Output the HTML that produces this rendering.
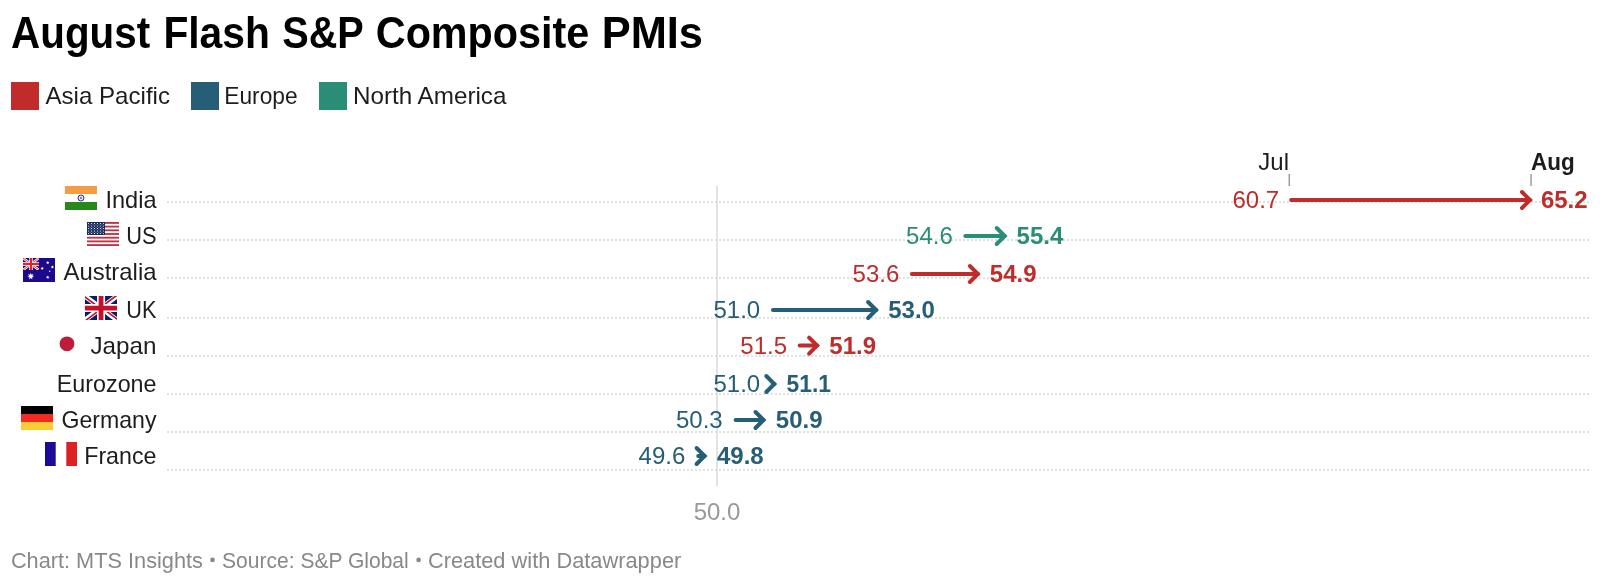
<!DOCTYPE html><html><head><meta charset="utf-8"><style>html,body{margin:0;padding:0;background:#fff;overflow:hidden}svg{display:block;will-change:transform}text{font-family:"Liberation Sans",sans-serif}</style></head><body>
<svg width="1621" height="584" viewBox="0 0 1621 584">
<rect width="1621" height="584" fill="#fff"/>
<text x="11.1" y="48" font-size="44" font-weight="bold" fill="#000" textLength="139.0" lengthAdjust="spacingAndGlyphs">August</text>
<text x="163.4" y="48" font-size="44" font-weight="bold" fill="#000" textLength="106.4" lengthAdjust="spacingAndGlyphs">Flash</text>
<text x="282.2" y="48" font-size="44" font-weight="bold" fill="#000" textLength="81.6" lengthAdjust="spacingAndGlyphs">S&amp;P</text>
<text x="375.8" y="48" font-size="44" font-weight="bold" fill="#000" textLength="213.5" lengthAdjust="spacingAndGlyphs">Composite</text>
<text x="601.7" y="48" font-size="44" font-weight="bold" fill="#000" textLength="101.3" lengthAdjust="spacingAndGlyphs">PMIs</text>
<rect x="11" y="82" width="28" height="28" fill="#bf2c29"/>
<text x="45.5" y="104" font-size="24" fill="#1d1d1d" textLength="124.5" lengthAdjust="spacingAndGlyphs">Asia Pacific</text>
<rect x="191" y="82" width="28" height="28" fill="#265e78"/>
<text x="224.3" y="104" font-size="24" fill="#1d1d1d" textLength="73.3" lengthAdjust="spacingAndGlyphs">Europe</text>
<rect x="319" y="82" width="28" height="28" fill="#2a8d75"/>
<text x="353" y="104" font-size="24" fill="#1d1d1d" textLength="153.4" lengthAdjust="spacingAndGlyphs">North America</text>
<rect x="716" y="186" width="2" height="300" fill="#e3e3e3"/>
<line x1="167" y1="202" x2="1589" y2="202" stroke="#e0e0e0" stroke-width="2" stroke-dasharray="2 2"/>
<line x1="167" y1="240" x2="1589" y2="240" stroke="#e0e0e0" stroke-width="2" stroke-dasharray="2 2"/>
<line x1="167" y1="278" x2="1589" y2="278" stroke="#e0e0e0" stroke-width="2" stroke-dasharray="2 2"/>
<line x1="167" y1="318" x2="1589" y2="318" stroke="#e0e0e0" stroke-width="2" stroke-dasharray="2 2"/>
<line x1="167" y1="356" x2="1589" y2="356" stroke="#e0e0e0" stroke-width="2" stroke-dasharray="2 2"/>
<line x1="167" y1="394" x2="1589" y2="394" stroke="#e0e0e0" stroke-width="2" stroke-dasharray="2 2"/>
<line x1="167" y1="432" x2="1589" y2="432" stroke="#e0e0e0" stroke-width="2" stroke-dasharray="2 2"/>
<line x1="167" y1="470" x2="1589" y2="470" stroke="#e0e0e0" stroke-width="2" stroke-dasharray="2 2"/>
<text x="1289" y="170" font-size="24" fill="#1d1d1d" text-anchor="end">Jul</text>
<text x="1531" y="170" font-size="24" font-weight="bold" fill="#1d1d1d" textLength="43.7" lengthAdjust="spacingAndGlyphs">Aug</text>
<rect x="1288.6" y="174" width="1.3" height="12" fill="#8f8f8f"/>
<rect x="1530.4" y="174" width="1.3" height="12" fill="#8f8f8f"/>
<text x="156.5" y="208.2" font-size="24" fill="#1d1d1d" text-anchor="end" textLength="51.1" lengthAdjust="spacingAndGlyphs">India</text>
<svg x="65" y="186" width="32" height="24" viewBox="0 0 32 24"><rect width="32" height="8" fill="#f59b41"/><rect y="16" width="32" height="8" fill="#27881d"/><circle cx="16" cy="12" r="3" fill="none" stroke="#2e2e90" stroke-width="1"/><path d="M16 9.2V14.8M13.2 12H18.8M14 10L18 14M18 10L14 14" stroke="#7a7ac0" stroke-width="0.4"/><circle cx="16" cy="12" r="0.8" fill="#4a4aa8"/></svg>
<path d="M1291.1 200.0H1530.0" stroke="#bf2c29" stroke-width="4" stroke-linecap="round"/>
<path d="M1522.0 192.0L1530.0 200.0L1522.0 208.0" fill="none" stroke="#bf2c29" stroke-width="4" stroke-linecap="round"/>
<text x="1279.2" y="208.1" font-size="24" fill="#bf2c29" text-anchor="end">60.7</text>
<text x="1540.9" y="208.1" font-size="24" font-weight="bold" fill="#bf2c29">65.2</text>
<text x="156.5" y="244.0" font-size="24" fill="#1d1d1d" text-anchor="end" textLength="30.3" lengthAdjust="spacingAndGlyphs">US</text>
<svg x="87" y="222" width="32" height="24" viewBox="0 0 32 24"><rect y="0.000" width="32" height="1.846" fill="#bb3443"/><rect y="3.692" width="32" height="1.846" fill="#bb3443"/><rect y="7.385" width="32" height="1.846" fill="#bb3443"/><rect y="11.077" width="32" height="1.846" fill="#bb3443"/><rect y="14.769" width="32" height="1.846" fill="#bb3443"/><rect y="18.462" width="32" height="1.846" fill="#bb3443"/><rect y="22.154" width="32" height="1.846" fill="#bb3443"/><rect width="18" height="13" fill="#172d5f"/><circle cx="1.60" cy="1.50" r="0.6" fill="#fff"/><circle cx="4.55" cy="1.50" r="0.6" fill="#fff"/><circle cx="7.50" cy="1.50" r="0.6" fill="#fff"/><circle cx="10.45" cy="1.50" r="0.6" fill="#fff"/><circle cx="13.40" cy="1.50" r="0.6" fill="#fff"/><circle cx="16.35" cy="1.50" r="0.6" fill="#fff"/><circle cx="1.60" cy="4.00" r="0.6" fill="#fff"/><circle cx="4.55" cy="4.00" r="0.6" fill="#fff"/><circle cx="7.50" cy="4.00" r="0.6" fill="#fff"/><circle cx="10.45" cy="4.00" r="0.6" fill="#fff"/><circle cx="13.40" cy="4.00" r="0.6" fill="#fff"/><circle cx="16.35" cy="4.00" r="0.6" fill="#fff"/><circle cx="1.60" cy="6.50" r="0.6" fill="#fff"/><circle cx="4.55" cy="6.50" r="0.6" fill="#fff"/><circle cx="7.50" cy="6.50" r="0.6" fill="#fff"/><circle cx="10.45" cy="6.50" r="0.6" fill="#fff"/><circle cx="13.40" cy="6.50" r="0.6" fill="#fff"/><circle cx="16.35" cy="6.50" r="0.6" fill="#fff"/><circle cx="1.60" cy="9.00" r="0.6" fill="#fff"/><circle cx="4.55" cy="9.00" r="0.6" fill="#fff"/><circle cx="7.50" cy="9.00" r="0.6" fill="#fff"/><circle cx="10.45" cy="9.00" r="0.6" fill="#fff"/><circle cx="13.40" cy="9.00" r="0.6" fill="#fff"/><circle cx="16.35" cy="9.00" r="0.6" fill="#fff"/><circle cx="1.60" cy="11.50" r="0.6" fill="#fff"/><circle cx="4.55" cy="11.50" r="0.6" fill="#fff"/><circle cx="7.50" cy="11.50" r="0.6" fill="#fff"/><circle cx="10.45" cy="11.50" r="0.6" fill="#fff"/><circle cx="13.40" cy="11.50" r="0.6" fill="#fff"/><circle cx="16.35" cy="11.50" r="0.6" fill="#fff"/><circle cx="3.10" cy="2.75" r="0.45" fill="#c8cde0"/><circle cx="6.05" cy="2.75" r="0.45" fill="#c8cde0"/><circle cx="9.00" cy="2.75" r="0.45" fill="#c8cde0"/><circle cx="11.95" cy="2.75" r="0.45" fill="#c8cde0"/><circle cx="14.90" cy="2.75" r="0.45" fill="#c8cde0"/><circle cx="3.10" cy="5.25" r="0.45" fill="#c8cde0"/><circle cx="6.05" cy="5.25" r="0.45" fill="#c8cde0"/><circle cx="9.00" cy="5.25" r="0.45" fill="#c8cde0"/><circle cx="11.95" cy="5.25" r="0.45" fill="#c8cde0"/><circle cx="14.90" cy="5.25" r="0.45" fill="#c8cde0"/><circle cx="3.10" cy="7.75" r="0.45" fill="#c8cde0"/><circle cx="6.05" cy="7.75" r="0.45" fill="#c8cde0"/><circle cx="9.00" cy="7.75" r="0.45" fill="#c8cde0"/><circle cx="11.95" cy="7.75" r="0.45" fill="#c8cde0"/><circle cx="14.90" cy="7.75" r="0.45" fill="#c8cde0"/><circle cx="3.10" cy="10.25" r="0.45" fill="#c8cde0"/><circle cx="6.05" cy="10.25" r="0.45" fill="#c8cde0"/><circle cx="9.00" cy="10.25" r="0.45" fill="#c8cde0"/><circle cx="11.95" cy="10.25" r="0.45" fill="#c8cde0"/><circle cx="14.90" cy="10.25" r="0.45" fill="#c8cde0"/></svg>
<path d="M965.3 236.0H1004.7" stroke="#2a8d75" stroke-width="4" stroke-linecap="round"/>
<path d="M996.7 228.0L1004.7 236.0L996.7 244.0" fill="none" stroke="#2a8d75" stroke-width="4" stroke-linecap="round"/>
<text x="952.8" y="244.3" font-size="24" fill="#2a8d75" text-anchor="end">54.6</text>
<text x="1016.6" y="244.3" font-size="24" font-weight="bold" fill="#2a8d75">55.4</text>
<text x="156.5" y="280.0" font-size="24" fill="#1d1d1d" text-anchor="end" textLength="93.0" lengthAdjust="spacingAndGlyphs">Australia</text>
<svg x="23" y="258" width="32" height="24" viewBox="0 0 32 24"><rect width="32" height="24" fill="#1b0a8e"/><svg width="16" height="12" viewBox="0 0 16 12"><rect width="16" height="12" fill="#1b0a8e"/><path d="M0 0L16 12M16 0L0 12" stroke="#fff" stroke-width="2.4"/><path d="M0 0L16 12M16 0L0 12" stroke="#f21a1a" stroke-width="0.9"/><path d="M8 0V12M0 6H16" stroke="#fff" stroke-width="3.4"/><path d="M8 0V12M0 6H16" stroke="#f21a1a" stroke-width="2"/></svg><polygon points="7.80,14.70 8.50,16.84 10.61,16.06 9.38,17.94 11.31,19.10 9.07,19.31 9.36,21.54 7.80,19.92 6.24,21.54 6.53,19.31 4.29,19.10 6.22,17.94 4.99,16.06 7.10,16.84" fill="#fff"/><polygon points="24.70,2.90 25.05,3.97 26.11,3.58 25.49,4.52 26.45,5.10 25.33,5.21 25.48,6.32 24.70,5.51 23.92,6.32 24.07,5.21 22.95,5.10 23.91,4.52 23.29,3.58 24.35,3.97" fill="#fff"/><polygon points="19.20,8.80 19.53,9.81 20.53,9.44 19.95,10.33 20.86,10.88 19.80,10.98 19.94,12.03 19.20,11.27 18.46,12.03 18.60,10.98 17.54,10.88 18.45,10.33 17.87,9.44 18.87,9.81" fill="#fff"/><polygon points="29.40,7.20 29.73,8.21 30.73,7.84 30.15,8.73 31.06,9.28 30.00,9.38 30.14,10.43 29.40,9.67 28.66,10.43 28.80,9.38 27.74,9.28 28.65,8.73 28.07,7.84 29.07,8.21" fill="#fff"/><polygon points="24.70,17.50 25.05,18.57 26.11,18.18 25.49,19.12 26.45,19.70 25.33,19.81 25.48,20.92 24.70,20.11 23.92,20.92 24.07,19.81 22.95,19.70 23.91,19.12 23.29,18.18 24.35,18.57" fill="#fff"/><circle cx="26.7" cy="13.2" r="0.7" fill="#fff"/></svg>
<path d="M911.9 274.0H977.9" stroke="#bf2c29" stroke-width="4" stroke-linecap="round"/>
<path d="M969.9 266.0L977.9 274.0L969.9 282.0" fill="none" stroke="#bf2c29" stroke-width="4" stroke-linecap="round"/>
<text x="899.3" y="282.0" font-size="24" fill="#bf2c29" text-anchor="end">53.6</text>
<text x="989.8" y="282.0" font-size="24" font-weight="bold" fill="#bf2c29">54.9</text>
<text x="156.5" y="318.1" font-size="24" fill="#1d1d1d" text-anchor="end" textLength="30.2" lengthAdjust="spacingAndGlyphs">UK</text>
<svg x="85" y="296" width="32" height="24" viewBox="0 0 640 480"><path fill="#012169" d="M0 0h640v480H0z"/><path fill="#fff" d="m75 0 244 181L562 0h78v62L400 241l240 178v61h-80L320 301 81 480H0v-60l239-178L0 64V0z"/><path fill="#C8102E" d="m424 281 216 159v40L369 281zm-184 20 6 35L54 480H0zM640 0v3L391 191l2-44L590 0zM0 0l239 176h-60L0 42z"/><path fill="#fff" d="M241 0v480h160V0zM0 160v160h640V160z"/><path fill="#C8102E" d="M0 193v96h640v-96zM273 0v480h96V0z"/></svg>
<path d="M773.0 310.0H876.1" stroke="#265e78" stroke-width="4" stroke-linecap="round"/>
<path d="M868.1 302.0L876.1 310.0L868.1 318.0" fill="none" stroke="#265e78" stroke-width="4" stroke-linecap="round"/>
<text x="760.2" y="318.1" font-size="24" fill="#265e78" text-anchor="end">51.0</text>
<text x="888.2" y="318.1" font-size="24" font-weight="bold" fill="#265e78">53.0</text>
<text x="156.5" y="354.2" font-size="24" fill="#1d1d1d" text-anchor="end" textLength="66.0" lengthAdjust="spacingAndGlyphs">Japan</text>
<circle cx="67" cy="343.8" r="7.4" fill="#bc1e3a"/>
<path d="M799.7 345.6H817.1" stroke="#bf2c29" stroke-width="4" stroke-linecap="round"/>
<path d="M809.1 337.6L817.1 345.6L809.1 353.6" fill="none" stroke="#bf2c29" stroke-width="4" stroke-linecap="round"/>
<text x="787.0" y="354.2" font-size="24" fill="#bf2c29" text-anchor="end">51.5</text>
<text x="829.3" y="354.2" font-size="24" font-weight="bold" fill="#bf2c29">51.9</text>
<text x="156.5" y="392.4" font-size="24" fill="#1d1d1d" text-anchor="end" textLength="99.7" lengthAdjust="spacingAndGlyphs">Eurozone</text>
<path d="M773.0 384.0H774.3" stroke="#265e78" stroke-width="4" stroke-linecap="round"/>
<path d="M766.3 376.0L774.3 384.0L766.3 392.0" fill="none" stroke="#265e78" stroke-width="4" stroke-linecap="round"/>
<text x="760.2" y="392.2" font-size="24" fill="#265e78" text-anchor="end">51.0</text>
<text x="786.6" y="392.2" font-size="24" font-weight="bold" fill="#265e78" textLength="44.4" lengthAdjust="spacingAndGlyphs">51.1</text>
<text x="156.5" y="428.2" font-size="24" fill="#1d1d1d" text-anchor="end" textLength="95.0" lengthAdjust="spacingAndGlyphs">Germany</text>
<svg x="21" y="406" width="32" height="24" viewBox="0 0 32 24"><rect width="32" height="8" fill="#000"/><rect y="8" width="32" height="8" fill="#f42a22"/><rect y="16" width="32" height="8" fill="#f8cd36"/></svg>
<path d="M735.6 420.0H763.5" stroke="#265e78" stroke-width="4" stroke-linecap="round"/>
<path d="M755.5 412.0L763.5 420.0L755.5 428.0" fill="none" stroke="#265e78" stroke-width="4" stroke-linecap="round"/>
<text x="722.7" y="428.0" font-size="24" fill="#265e78" text-anchor="end">50.3</text>
<text x="775.8" y="428.0" font-size="24" font-weight="bold" fill="#265e78">50.9</text>
<text x="156.5" y="464.1" font-size="24" fill="#1d1d1d" text-anchor="end" textLength="72.3" lengthAdjust="spacingAndGlyphs">France</text>
<svg x="45" y="442" width="32" height="24" viewBox="0 0 32 24"><rect width="10.7" height="24" fill="#1c0b97"/><rect x="21.3" width="10.7" height="24" fill="#dc2323"/></svg>
<path d="M698.2 456.0H704.6" stroke="#265e78" stroke-width="4" stroke-linecap="round"/>
<path d="M696.6 448.0L704.6 456.0L696.6 464.0" fill="none" stroke="#265e78" stroke-width="4" stroke-linecap="round"/>
<text x="685.3" y="464.1" font-size="24" fill="#265e78" text-anchor="end">49.6</text>
<text x="717.0" y="464.1" font-size="24" font-weight="bold" fill="#265e78">49.8</text>
<text x="717" y="520" font-size="24" fill="#999" text-anchor="middle">50.0</text>
<text x="10.9" y="568" font-size="22" fill="#888" textLength="192.0" lengthAdjust="spacingAndGlyphs">Chart: MTS Insights</text>
<text x="222.1" y="568" font-size="22" fill="#888" textLength="186.6" lengthAdjust="spacingAndGlyphs">Source: S&amp;P Global</text>
<text x="427.9" y="568" font-size="22" fill="#888" textLength="253.4" lengthAdjust="spacingAndGlyphs">Created with Datawrapper</text>
<circle cx="212.5" cy="559.9" r="2.3" fill="#888"/><circle cx="418.6" cy="559.9" r="2.3" fill="#888"/>
</svg></body></html>
